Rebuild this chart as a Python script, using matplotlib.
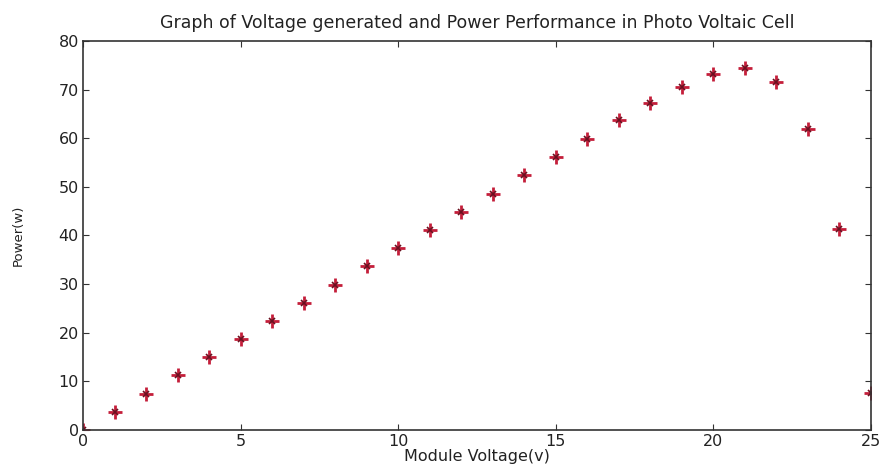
import numpy as np
import matplotlib.pyplot as plt

voltage = [0, 1, 2, 3, 4, 5, 6, 7, 8, 9, 10, 11, 12, 13, 14, 15, 16, 17, 18, 19, 20, 21, 22, 23, 24, 25]
power = [0, 3.7, 7.4, 11.3, 15.0, 18.7, 22.4, 26.1, 29.8, 33.7, 37.4, 41.2, 44.9, 48.6, 52.5, 56.2,
         59.9, 63.8, 67.3, 70.6, 73.2, 74.5, 71.6, 61.9, 41.4, 7.6]

plt.rcParams['font.family'] = ['DejaVu Sans']

fig = plt.figure(figsize=(8.82, 4.71), dpi=100)
ax = fig.add_axes([83 / 882, 1 - 430 / 471, (871 - 83) / 882, (430 - 41) / 471])

ax.plot(voltage, power, linestyle='none', marker='+', markersize=10, mew=2, color='#c41e3a')
ax.plot(voltage, power, linestyle='none', marker='x', markersize=5, mew=1.2, color='#6a1020')

ax.set_xlim(0, 25)
ax.set_ylim(0, 80)
ax.set_xticks([0, 5, 10, 15, 20, 25])
ax.set_yticks(range(0, 81, 10))
ax.tick_params(direction='in', top=True, right=True, labelsize=11.5, length=4, pad=3,
               colors='#333333', labelcolor='#222222')
for s in ax.spines.values():
    s.set_linewidth(1.2)
    s.set_color('#333333')

ax.set_title('Graph of Voltage generated and Power Performance in Photo Voltaic Cell',
             fontsize=12.5, pad=9, color='#222222')
ax.set_xlabel('Module Voltage(v)', fontsize=11.5, labelpad=0, color='#222222')
ax.set_ylabel('Power(w)', fontsize=9.5, labelpad=24, color='#222222')

fig.savefig('out.png', dpi=100)
